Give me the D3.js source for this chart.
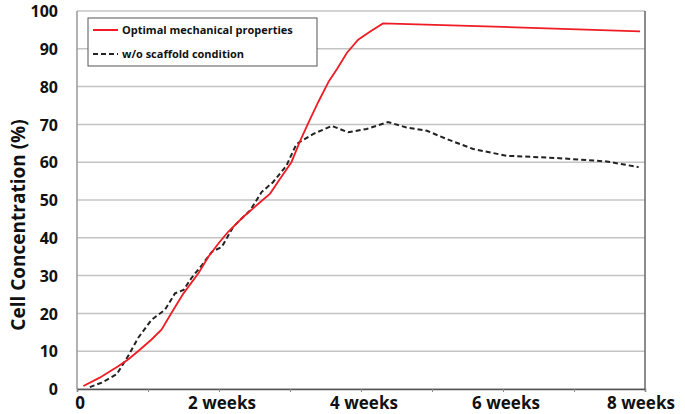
<!DOCTYPE html>
<html lang="en">
  <head>
    <meta charset="UTF-8" />
    <title>Cell Concentration</title>
    <script src="https://d3js.org/d3.v7.min.js"></script>
    <style>
      body { margin: 0; background: #fff; }
      text { font-family: "Open Sans", sans-serif; font-weight: 700; fill: #111; }
    </style>
  </head>
  <body>
    <svg width="685" height="414"></svg>
    <script>
      // Data (x in weeks, y in %)
      const optimalWeeks = [0.09, 0.32, 0.58, 0.72, 0.86, 1.05, 1.19, 1.33, 1.5, 1.71, 1.85, 2.0, 2.13, 2.34, 2.53, 2.72, 2.86, 3.02, 3.14, 3.26, 3.4, 3.55, 3.66, 3.8, 3.96, 4.13, 4.31, 6.0, 7.93];
      const optimalValues = [0.8, 3.0, 6.0, 7.8, 10.0, 13.1, 15.7, 20.1, 25.3, 30.6, 35, 38.7, 41.6, 45.5, 48.6, 51.7, 55.6, 60, 65.5, 70.5, 76, 81.5, 84.6, 88.9, 92.4, 94.6, 96.7, 95.8, 94.6];
      const noScaffoldWeeks = [0.18, 0.35, 0.56, 0.72, 0.86, 1.05, 1.24, 1.38, 1.5, 1.61, 1.76, 1.9, 2.04, 2.2, 2.44, 2.6, 2.76, 2.95, 3.09, 3.33, 3.59, 3.82, 4.08, 4.38, 4.64, 4.93, 5.21, 5.58, 6.05, 6.76, 7.46, 7.91];
      const noScaffoldValues = [0.5, 1.7, 3.9, 8.7, 13.5, 18.3, 21, 25.3, 26.2, 29.3, 32.8, 36.3, 37.6, 42.9, 47.3, 52.1, 54.7, 59.1, 64.8, 67.5, 69.6, 67.9, 68.8, 70.6, 69.2, 68.3, 66.1, 63.5, 61.7, 61.1, 60.2, 58.7];
      const xTickValues = [0, 2, 4, 6, 8];
      const xTickLabels = ["0", "2 weeks", "4 weeks", "6 weeks", "8 weeks"];
      const yTickValues = [0, 10, 20, 30, 40, 50, 60, 70, 80, 90, 100];
      const seriesNames = ["Optimal mechanical properties", "w/o scaffold condition"];

      const svg = d3.select("svg");
      const margin = { left: 77, right: 40, top: 11, bottom: 25 };
      const width = 685 - margin.left - margin.right;
      const height = 414 - margin.top - margin.bottom;

      const x = d3.scaleLinear().domain([0, 8]).range([0, width]);
      const y = d3.scaleLinear().domain([0, 100]).range([height, 0]);

      const g = svg.append("g").attr("transform", `translate(${margin.left},${margin.top})`);

      // Horizontal gridlines
      g.append("g")
        .selectAll("line")
        .data(yTickValues)
        .enter()
        .append("line")
        .attr("x1", 0)
        .attr("x2", width)
        .attr("y1", (d) => y(d))
        .attr("y2", (d) => y(d))
        .style("stroke", "#c4c4c4")
        .style("stroke-width", 1.5);

      // Frame: right and left edges
      g.append("line").attr("x1", width).attr("x2", width).attr("y1", 0).attr("y2", height)
        .style("stroke", "#666").style("stroke-width", 1.5);
      g.append("line").attr("x1", 0).attr("x2", 0).attr("y1", 0).attr("y2", height)
        .style("stroke", "#999").style("stroke-width", 1.5);

      // Y axis labels
      const yAxis = g.append("g")
        .call(d3.axisLeft(y).tickValues(yTickValues).tickSize(0).tickPadding(19));
      yAxis.select(".domain").remove();
      yAxis.selectAll("text").style("font-size", "16px").attr("dy", "0.36em");

      // X axis
      const xAxis = g.append("g")
        .attr("transform", `translate(0,${height})`)
        .call(d3.axisBottom(x).ticks(8).tickSize(3).tickFormat(""));
      xAxis.select(".domain").style("stroke", "#555").style("stroke-width", 1.5);
      xAxis.selectAll(".tick line").style("stroke", "#888");

      g.append("g")
        .selectAll("text")
        .data(xTickValues)
        .enter()
        .append("text")
        .attr("x", (d) => x(d) + (d === 0 ? 3 : d === 8 ? -4 : 3))
        .attr("y", height + 20)
        .attr("text-anchor", "middle")
        .style("font-size", "17px")
        .text((d, i) => xTickLabels[i]);

      // Y axis title
      svg.append("text")
        .attr("transform", "translate(25,225) rotate(-90)")
        .attr("text-anchor", "middle")
        .style("font-size", "19px")
        .text("Cell Concentration (%)");

      const line = d3.line().x((d) => x(d[0])).y((d) => y(d[1]));

      g.append("path")
        .datum(d3.zip(noScaffoldWeeks, noScaffoldValues))
        .attr("d", line)
        .style("fill", "none")
        .style("stroke", "#222")
        .style("stroke-width", 2)
        .style("stroke-dasharray", "5,3");

      g.append("path")
        .datum(d3.zip(optimalWeeks, optimalValues))
        .attr("d", line)
        .style("fill", "none")
        .style("stroke", "#ee1c24")
        .style("stroke-width", 1.8);

      // Legend
      const legend = svg.append("g").attr("transform", "translate(88,18)");
      legend.append("rect")
        .attr("width", 229)
        .attr("height", 48)
        .style("fill", "#fff")
        .style("stroke", "#555")
        .style("stroke-width", 1);
      const rows = legend.selectAll("g.row")
        .data(seriesNames)
        .enter()
        .append("g")
        .attr("class", "row")
        .attr("transform", (d, i) => `translate(0,${12 + i * 24})`);
      rows.append("line")
        .attr("x1", 5)
        .attr("x2", 30)
        .style("stroke", (d, i) => (i === 0 ? "#ee1c24" : "#222"))
        .style("stroke-width", 2)
        .style("stroke-dasharray", (d, i) => (i === 0 ? null : "5,3"));
      rows.append("text")
        .attr("x", 34)
        .attr("dy", "0.35em")
        .style("font-size", "11px")
        .text((d) => d);
    </script>
  </body>
</html>
